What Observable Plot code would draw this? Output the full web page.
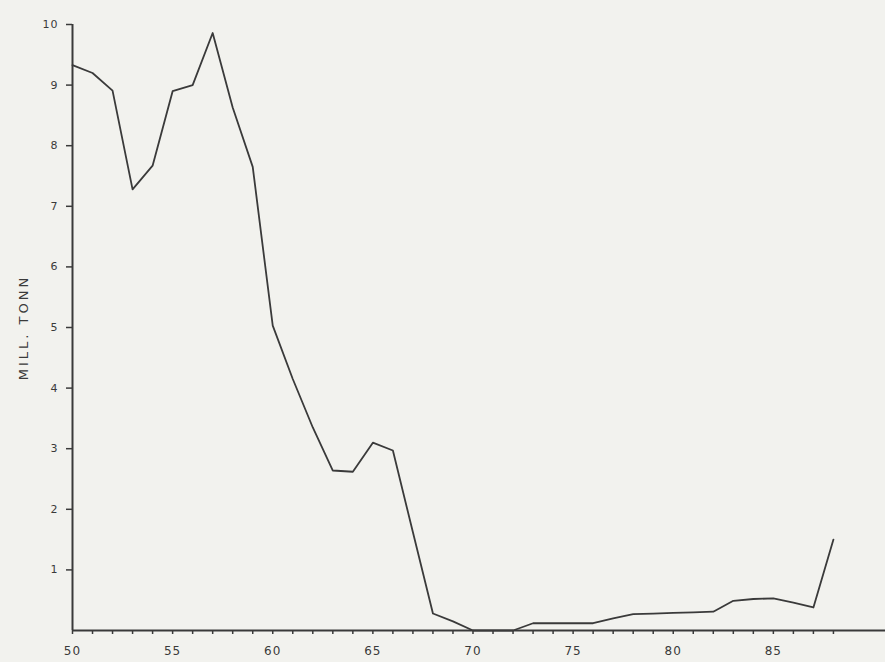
<!DOCTYPE html>
<html><head><meta charset="utf-8">
<script src="https://cdn.jsdelivr.net/npm/d3@7"></script>
<script src="https://cdn.jsdelivr.net/npm/@observablehq/plot@0.6"></script>
<style>
html,body{margin:0;padding:0;background:#f2f2ee;}
g[aria-label="y-axis label"] text{letter-spacing:3px;font-size:13px;}
</style></head><body><div id="chart"></div><script>
const years = [1950,1951,1952,1953,1954,1955,1956,1957,1958,1959,
               1960,1961,1962,1963,1964,1965,1966,1967,1968,1969,
               1970,1971,1972,1973,1974,1975,1976,1977,1978,1979,
               1980,1981,1982,1983,1984,1985,1986,1987,1988];
const values = [9.33,9.2,8.91,7.28,7.67,8.9,9.0,9.86,8.63,7.65,
                5.03,4.15,3.35,2.64,2.62,3.1,2.97,1.62,0.28,0.15,
                0,0,0,0.12,0.12,0.12,0.12,0.2,0.27,0.28,
                0.29,0.3,0.31,0.49,0.52,0.53,0.46,0.38,1.5];
const xMajorTicks = [1950,1955,1960,1965,1970,1975,1980,1985];
const xTickLabels = ["50","55","60","65","70","75","80","85"];
const xMinorTicks = years;
const yTicks = [1,2,3,4,5,6,7,8,9,10];
const yLabel = "MILL. TONN";

const data = years.map((year, i) => ({year, value: values[i]}));
const ink = "#3a3a3a";

const chart = Plot.plot({
  width: 885,
  height: 662,
  marginLeft: 72,
  marginRight: 0,
  marginTop: 24,
  marginBottom: 32,
  style: {background: "#f2f2ee", fontFamily: "DejaVu Sans", fontSize: "11px", color: ink, letterSpacing: "1px"},
  x: {domain: [1950, 1990.6]},
  y: {domain: [0, 10]},
  marks: [
    Plot.axisY({ticks: yTicks, tickSize: 6, tickPadding: 8, strokeWidth: 1.5, fill: ink,
      label: yLabel, labelAnchor: "center", labelArrow: "none", labelOffset: 54, fontSize: 11}),
    Plot.axisX({ticks: xMinorTicks, tickSize: 4, strokeWidth: 1.5, tickFormat: () => "", label: null}),
    Plot.axisX({ticks: xMajorTicks, tickSize: 0, tickPadding: 16, fontSize: 12, fill: ink,
      tickFormat: d => xTickLabels[xMajorTicks.indexOf(d)], label: null}),
    Plot.ruleX([1950], {y1: 0, y2: 10, stroke: ink, strokeWidth: 2}),
    Plot.ruleY([0], {stroke: ink, strokeWidth: 2}),
    Plot.line(data, {x: "year", y: "value", stroke: ink, strokeWidth: 1.8})
  ]
});
document.getElementById("chart").appendChild(chart);
</script></body></html>
